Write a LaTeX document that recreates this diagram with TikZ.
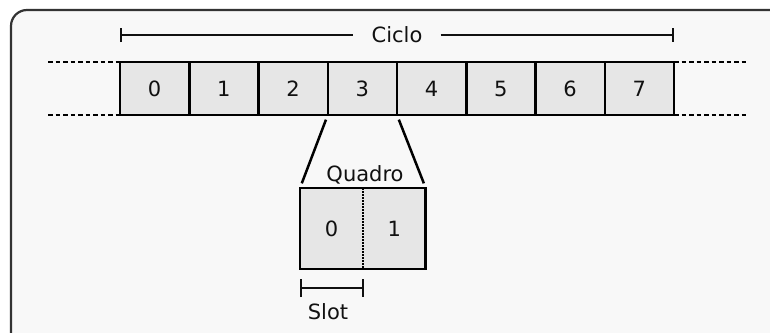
\documentclass[tikz,border=0pt]{standalone}
\usepackage{fontspec}
\setmainfont{DejaVu Sans}
\usetikzlibrary{arrows.meta}
\definecolor{panelbg}{HTML}{F8F8F8}
\definecolor{panelline}{HTML}{333333}
\definecolor{cellfill}{HTML}{E6E6E6}
\definecolor{ink}{HTML}{111111}
\begin{document}
\begin{tikzpicture}[x=1pt,y=-1pt,
  every node/.style={font=\fontsize{21}{25}\selectfont, text=ink},
  cell/.style={draw=black, line width=2.5pt, fill=cellfill, minimum width=69.25pt,
    minimum height=53pt, inner sep=0pt, outer sep=0pt, anchor=north west},
  half/.style={fill=cellfill, minimum width=62.85pt, minimum height=81pt,
    inner sep=0pt, outer sep=0pt, anchor=north west},
  dim/.style={line width=2.2pt, ink},
  spantick/.tip={Bar[width=14pt, line width=2.2pt]},
  slottick/.tip={Bar[width=18pt, line width=2.2pt]},
  edge/.style={dash pattern=on 4.5pt off 3pt, line width=2.5pt}
]
\useasboundingbox (0,0) rectangle (770,332);
% panel
\draw[panelline, fill=panelbg, line width=2.2pt, rounded corners=16pt]
  (11,10) rectangle (790,350);

% the eight cells of the cycle
\foreach \i in {0,...,7}
  \node[cell] (c\i) at ({120+69.25*\i},62) {\i};

% dotted continuations on both sides
\coordinate (lt) at (48,62);  \coordinate (lb) at (48,115);
\coordinate (rt) at (746,62); \coordinate (rb) at (746,115);
\draw[edge] (lt) -- (c0.north west);
\draw[edge] (lb) -- (c0.south west);
\draw[edge] (c7.north east) -- (rt);
\draw[edge] (c7.south east) -- (rb);

% cycle span
\node[inner xsep=18pt, inner ysep=0pt] (ciclo) at (397,35) {Ciclo};
\coordinate (cyl) at (120,35);
\coordinate (cyr) at (674,35);
\draw[dim, {spantick}-] (cyl) -- (ciclo.west);
\draw[dim, -{spantick}] (ciclo.east) -- (cyr);

% the frame, split into two slots
\node[half] (q0) at (300,188) {0};
\node[half] (q1) at (362.85,188) {1};
\draw[line width=2.8pt] (q0.north west) rectangle (q1.south east);
\draw[line width=2.5pt, dash pattern=on 1.6pt off 1.4pt] (q0.north east) -- (q0.south east);
\node (quadro) at (365,175) {Quadro};

% zoom lines from cell 3 to the frame
\draw[line width=2.5pt, shorten <=5pt, shorten >=5pt] (c3.south west) -- (q0.north west);
\draw[line width=2.5pt, shorten <=5pt, shorten >=5pt] (c3.south east) -- (q1.north east);

% slot span
\coordinate (sl) at (300,288);
\coordinate (sr) at (364,288);
\draw[dim, {slottick}-{slottick}] (sl) -- (sr);
\node (slot) at (328,312) {Slot};
\end{tikzpicture}
\end{document}
